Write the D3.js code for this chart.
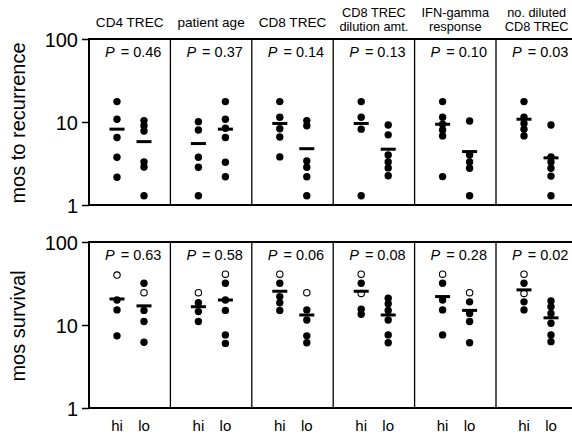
<!DOCTYPE html>
<html>
<head>
<meta charset="utf-8">
<script src="https://cdn.jsdelivr.net/npm/d3@7"></script>
<style>
  body { margin: 0; background: #fff; }
  svg { font-family: "Liberation Sans", Arial, sans-serif; }
</style>
</head>
<body>
<div id="chart"></div>
<script>
// panel headers (one or two lines each)
let headers = [["CD4 TREC"], ["patient age"], ["CD8 TREC"], ["CD8 TREC", "dilution amt."], ["IFN-gamma", "response"], ["no. diluted", "CD8 TREC"]]
let groups = ["hi", "lo"]
let tickValues = [1, 10, 100]

// months to recurrence
let pRecurrence = ["0.46", "0.37", "0.14", "0.13", "0.10", "0.03"]
let recurrenceHi = [
  [17.6, 10.8, 6.5, 3.76, 2.16],
  [10.1, 8.0, 3.76, 2.85, 1.29],
  [17.6, 11.4, 8.3, 6.6, 3.8],
  [17.6, 11.4, 8.2, 1.29],
  [17.6, 11.4, 9.4, 8.0, 6.8, 2.2],
  [17.6, 11.4, 9.6, 8.2, 6.8]
]
let recurrenceLo = [
  [10.4, 9.0, 7.8, 3.3, 2.87, 1.29],
  [17.6, 10.8, 8.4, 6.5, 3.27, 2.19],
  [10.4, 9.0, 3.4, 2.85, 2.19, 1.29],
  [9.2, 7.0, 4.0, 3.3, 2.8, 2.25],
  [10.3, 4.0, 3.3, 2.77, 1.29],
  [9.2, 3.8, 3.3, 2.77, 2.23, 1.29]
]
let recurrenceMedHi = [8.2, 5.5, 9.6, 9.6, 9.4, 10.8]
let recurrenceMedLo = [5.8, 8.2, 4.77, 4.7, 4.4, 3.7]

// months survival (open = censored)
let pSurvival = ["0.63", "0.58", "0.06", "0.08", "0.28", "0.02"]
let survivalHi = [
  [20, 15.2, 7.4],
  [18.5, 14.5, 11],
  [31.8, 22, 18.5, 15],
  [31.8, 15.5, 13.5],
  [31.8, 20, 15.2, 7.6],
  [31.8, 19, 15.2]
]
let survivalLo = [
  [31.8, 15, 11, 6.2],
  [31.8, 20, 15, 7.6, 6],
  [15.2, 11.5, 7.4, 6.1],
  [21, 18, 15, 11.5, 7.6, 6.1],
  [19, 13.8, 11, 6.1],
  [19.5, 16.6, 13.8, 10.5, 7.6, 6.3]
]
let survivalHiOpen = [[40], [24.5], [41], [41, 24], [41], [41, 24]]
let survivalLoOpen = [[24.5], [41], [24.5], [], [24.5], []]
let survivalMedHi = [20.6, 16.6, 25.5, 25.5, 22, 26.5]
let survivalMedLo = [17, 20, 13.2, 13.2, 15, 12.2]

let W = 572, H = 435
let left = 89, panelW = 81.4

let svg = d3.select("#chart").append("svg")
  .attr("width", W)
  .attr("height", H)

let x = d3.scaleBand()
  .domain(d3.range(headers.length))
  .range([left, left + panelW * headers.length])

let gx = d3.scalePoint()
  .domain(groups)
  .range([28, 55])

// column headers
headers.forEach((lines, i) => {
  let cx = x(i) + panelW / 2
  let base = lines.length == 1 ? [26.5] : [16.5, 31]
  lines.forEach((t, j) => {
    svg.append("text")
      .attr("x", cx)
      .attr("y", base[j])
      .attr("text-anchor", "middle")
      .attr("font-size", lines.length == 1 ? 13.6 : 12.8)
      .text(t)
  })
})

let rows = [
  { top: 39, bottom: 205, title: "mos to recurrence", p: pRecurrence, hi: recurrenceHi, lo: recurrenceLo, hiOpen: null, loOpen: null, medHi: recurrenceMedHi, medLo: recurrenceMedLo },
  { top: 242, bottom: 408, title: "mos survival", p: pSurvival, hi: survivalHi, lo: survivalLo, hiOpen: survivalHiOpen, loOpen: survivalLoOpen, medHi: survivalMedHi, medLo: survivalMedLo }
]

rows.forEach(row => drawRow(row))

function drawRow(row) {
  let y = d3.scaleLog()
    .domain([1, 100])
    .range([row.bottom, row.top])

  let g = svg.append("g")

  // frame
  g.append("line")
    .attr("x1", left).attr("x2", W + 10)
    .attr("y1", row.top).attr("y2", row.top)
    .attr("stroke", "#000").attr("stroke-width", 2)
  g.append("line")
    .attr("x1", left).attr("x2", W + 10)
    .attr("y1", row.bottom).attr("y2", row.bottom)
    .attr("stroke", "#000").attr("stroke-width", 2)
  g.selectAll(".divider")
    .data(d3.range(1, headers.length))
    .join("line")
    .attr("class", "divider")
    .attr("x1", d => x(d)).attr("x2", d => x(d))
    .attr("y1", row.top).attr("y2", row.bottom)
    .attr("stroke", "#000").attr("stroke-width", 1.3)

  let axis = g.append("g")
    .attr("transform", `translate(${left},0)`)
    .call(d3.axisLeft(y).tickValues(tickValues).tickFormat(d3.format("d")).tickSize(7).tickSizeOuter(0))
  axis.select(".domain").attr("stroke-width", 2).attr("d", `M0,${row.bottom + 1}V${row.top - 1}`)
  axis.selectAll(".tick line").attr("stroke-width", 1.5)
  axis.selectAll(".tick text")
    .attr("font-size", 20)
    .attr("font-family", "Liberation Sans, Arial, sans-serif")
    .attr("fill", "#000")
    .attr("x", -11)
    .attr("dy", "0.36em")

  svg.append("text")
    .attr("transform", `translate(25,${(row.top + row.bottom) / 2 + 1}) rotate(-90)`)
    .attr("text-anchor", "middle")
    .attr("font-size", 20)
    .text(row.title)

  headers.forEach((h, i) => {
    let px = x(i)
    let pt = g.append("text")
      .attr("x", px + panelW - 9)
      .attr("y", row.top + 17.5)
      .attr("text-anchor", "end")
      .attr("font-size", 14.5)
    pt.append("tspan").attr("font-style", "italic").text("P")
    pt.append("tspan").attr("dx", 6).text("= " + row.p[i])

    let sets = [
      { grp: "hi", vals: row.hi[i], open: row.hiOpen ? row.hiOpen[i] : [], med: row.medHi[i] },
      { grp: "lo", vals: row.lo[i], open: row.loOpen ? row.loOpen[i] : [], med: row.medLo[i] }
    ]
    sets.forEach(s => {
      let cx = px + gx(s.grp)
      g.selectAll(null)
        .data(s.open)
        .join("circle")
        .attr("cx", cx)
        .attr("cy", d => y(d))
        .attr("r", 3.2)
        .attr("fill", "#fff")
        .attr("stroke", "#000")
        .attr("stroke-width", 1.1)
      g.selectAll(null)
        .data(s.vals)
        .join("circle")
        .attr("cx", cx)
        .attr("cy", d => y(d))
        .attr("r", 3.7)
        .attr("fill", "#000")
      g.append("rect")
        .attr("x", cx - 7.5)
        .attr("y", y(s.med) - 1.5)
        .attr("width", 15)
        .attr("height", 3)
        .attr("fill", "#000")
    })
  })
}

// group labels under bottom row
headers.forEach((h, i) => {
  svg.selectAll(null)
    .data(groups)
    .join("text")
    .attr("x", d => x(i) + gx(d))
    .attr("y", 431)
    .attr("text-anchor", "middle")
    .attr("font-size", 15)
    .text(d => d)
})
</script>
</body>
</html>
